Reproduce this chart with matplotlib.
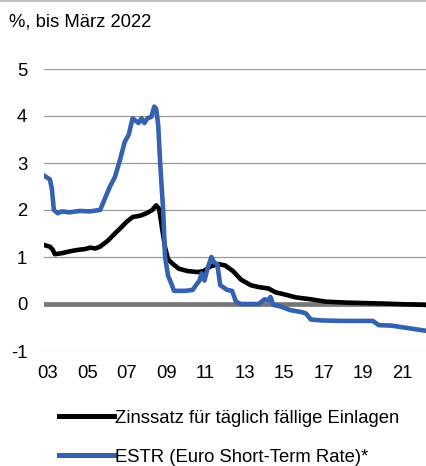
import matplotlib
matplotlib.use("Agg")
import matplotlib.pyplot as plt
from matplotlib.lines import Line2D

plt.rcParams['font.family'] = ['Liberation Sans', 'DejaVu Sans']

title = "%, bis März 2022"
label_deposit = "Zinssatz für täglich fällige Einlagen"
label_estr = "ESTR (Euro Short-Term Rate)*"

estr_years = [2002.85, 2003.1, 2003.2, 2003.3, 2003.5, 2003.7, 2004.1, 2004.6, 2005.1, 2005.65,
              2005.85, 2006.15, 2006.4, 2006.65, 2006.9, 2007.1, 2007.3, 2007.45, 2007.6, 2007.75,
              2007.9, 2008.05, 2008.25, 2008.4, 2008.5, 2008.6, 2008.7, 2008.85, 2008.95, 2009.1,
              2009.3, 2009.4, 2010.0, 2010.35, 2010.55, 2010.7, 2010.8, 2010.95, 2011.1, 2011.3,
              2011.45, 2011.6, 2011.75, 2012.1, 2012.35, 2012.55, 2012.8, 2013.3, 2013.7, 2014.0,
              2014.2, 2014.3, 2014.45, 2014.8, 2015.3, 2015.85, 2016.1, 2016.35, 2016.9, 2017.9,
              2019.5, 2019.8, 2020.45, 2022.2]
estr_values = [2.72, 2.65, 2.45, 2.0, 1.93, 1.97, 1.95, 1.98, 1.97, 2.0,
               2.2, 2.5, 2.7, 3.05, 3.45, 3.6, 3.95, 3.9, 3.85, 3.95,
               3.85, 3.95, 3.98, 4.2, 4.15, 3.8, 3.0, 2.0, 1.0, 0.6,
               0.4, 0.28, 0.28, 0.3, 0.42, 0.5, 0.65, 0.5, 0.75, 1.0,
               0.88, 0.85, 0.4, 0.3, 0.28, 0.05, 0.0, 0.0, 0.0, 0.1,
               0.08, 0.15, -0.02, -0.05, -0.13, -0.17, -0.2, -0.33, -0.35, -0.36,
               -0.36, -0.45, -0.46, -0.57]

dep_years = [2002.85, 2003.1, 2003.25, 2003.35, 2003.7, 2004.1, 2004.5, 2004.9, 2005.15, 2005.4,
             2005.65, 2006.05, 2006.4, 2006.65, 2007.0, 2007.3, 2007.7, 2008.0, 2008.3, 2008.5,
             2008.65, 2008.8, 2008.95, 2009.1, 2009.35, 2009.65, 2010.1, 2010.6, 2010.9, 2011.25,
             2011.65, 2012.0, 2012.4, 2012.8, 2013.3, 2013.7, 2014.2, 2014.55, 2015.05, 2015.6,
             2016.35, 2017.1, 2018.15, 2019.95, 2022.2]
dep_values = [1.25, 1.22, 1.15, 1.06, 1.08, 1.12, 1.15, 1.17, 1.2, 1.18,
              1.22, 1.35, 1.5, 1.6, 1.75, 1.85, 1.88, 1.93, 2.0, 2.1,
              2.02, 1.6, 1.2, 0.95, 0.85, 0.75, 0.7, 0.68, 0.7, 0.8,
              0.85, 0.82, 0.7, 0.52, 0.4, 0.36, 0.33, 0.25, 0.2, 0.14,
              0.1, 0.05, 0.03, 0.01, -0.02]

xticks = [2003, 2005, 2007, 2009, 2011, 2013, 2015, 2017, 2019, 2021]
xticklabels = ["03", "05", "07", "09", "11", "13", "15", "17", "19", "21"]
yticks = [-1, 0, 1, 2, 3, 4, 5]
yticklabels = ["-1", "0", "1", "2", "3", "4", "5"]

W, H = 427, 466
FS = 13.3
fig = plt.figure(figsize=(W / 100, H / 100), dpi=100)
ax = fig.add_axes([44 / W, (H - 351) / H, (W - 44) / W, (351 - 69) / H])

blue = '#3461b0'
for y in [1, 2, 3, 4, 5, -1]:
    ax.axhline(y, color='#9a9a9a', lw=0.9, zorder=1)
ax.axhline(0, color='#777777', lw=3.4, zorder=2)

ax.plot(dep_years, dep_values, color='black', lw=3.3, zorder=3, solid_joinstyle='round')
ax.plot(estr_years, estr_values, color=blue, lw=3.3, zorder=4, solid_joinstyle='round')

ax.set_xlim(2002.8, 2022.25)
ax.set_ylim(-1, 5)
ax.set_xticks(xticks)
ax.set_xticklabels(xticklabels, fontsize=FS)
ax.set_yticks(yticks)
ax.set_yticklabels(yticklabels, fontsize=FS)
ax.tick_params(length=0)
ax.tick_params(axis='x', pad=10)
ax.tick_params(axis='y', pad=12)
for s in ax.spines.values():
    s.set_visible(False)

fig.add_artist(Line2D([0, 1], [1 - 1 / H, 1 - 1 / H], transform=fig.transFigure,
                      color='#c0c0c0', lw=1.5))
fig.text(9 / W, 1 - 22 / H, title, fontsize=FS, va='center', ha='left')

handles = [Line2D([], [], color='black', lw=3.6), Line2D([], [], color=blue, lw=3.6)]
fig.legend(handles, [label_deposit, label_estr], loc='upper left',
           bbox_to_anchor=(42 / W, 1 - 393 / H), frameon=False, fontsize=FS,
           handlelength=3.0, handletextpad=0.05, labelspacing=1.2)

fig.savefig('out.png', dpi=100)
